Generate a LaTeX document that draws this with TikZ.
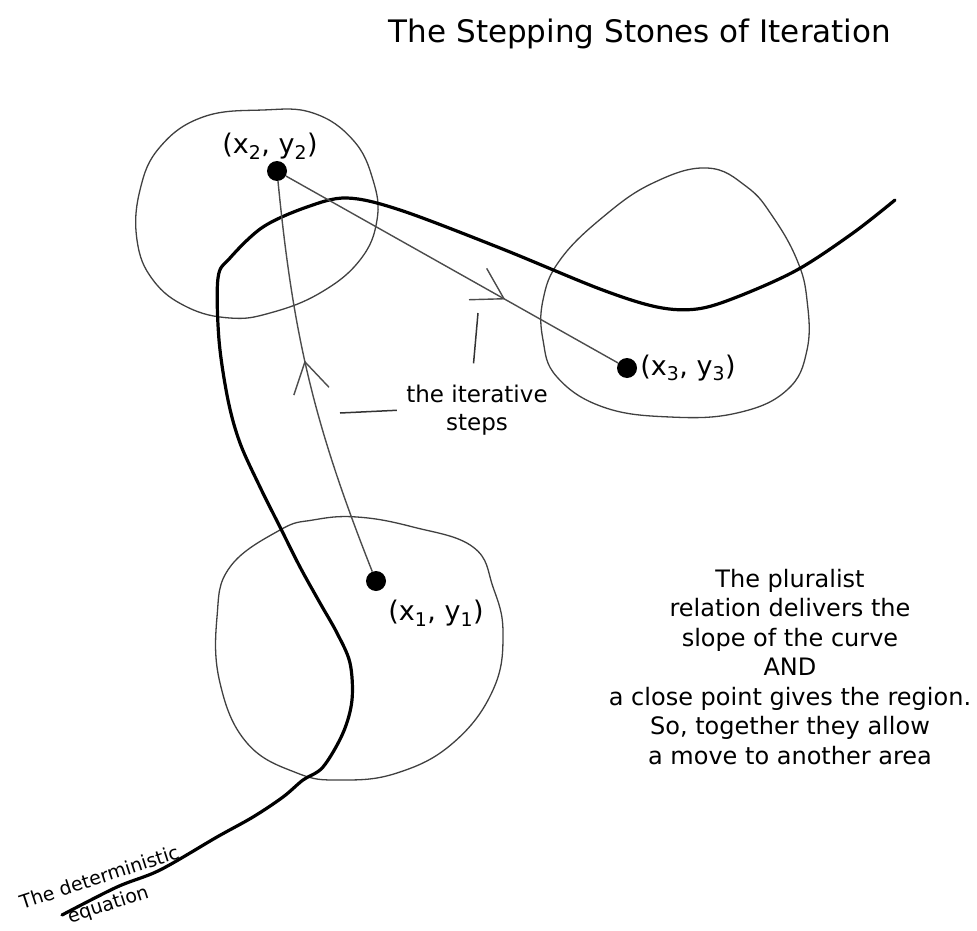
\documentclass[tikz,border=0pt]{standalone}
\usepackage{fontspec}
\setmainfont{DejaVu Sans}
\usetikzlibrary{arrows.meta,positioning,decorations.markings}

\begin{document}
\begin{tikzpicture}[
  x=1pt,y=-1pt,
  region/.style={draw=black!75,line width=1.3pt},
  eqcurve/.style={draw=black,line width=3.2pt,line cap=round,line join=round},
  stone/.style={circle,fill=black,inner sep=0pt,minimum size=20pt},
  coordlabel/.style={inner sep=0pt,font=\fontsize{27}{30}\selectfont},
  stepline/.style={draw=black!70,line width=1.4pt},
  midarrow/.style={postaction=decorate,decoration={markings,mark=at position #1 with {\arrow{Straight Barb[length=30pt,width=36pt]}}}},
  pointer/.style={draw=black!80,line width=1.5pt},
  note/.style={align=center,font=\fontsize{24}{29.5}\selectfont}
]
\useasboundingbox (0,0) rectangle (977,931);

\node[font=\fontsize{31}{37}\selectfont,anchor=base] (title) at (640,43) {The Stepping Stones of Iteration};

\draw[region] plot[smooth cycle,tension=0.7] coordinates {(263,110) (203,117) (160,147) (140,190) (137,240) (153,280) (187,307) (230,318) (270,313) (320,293) (360,260) (377,220) (373,180) (353,140) (313,113)};
\draw[region] plot[smooth cycle,tension=0.7] coordinates {(707,168) (653,183) (603,217) (560,260) (543,300) (543,340) (557,377) (603,407) (670,417) (737,413) (787,390) (807,350) (807,300) (797,260) (773,217) (747,187)};
\draw[region] plot[smooth cycle,tension=0.7] coordinates {(357,517) (313,520) (280,530) (230,567) (217,617) (220,683) (247,743) (297,773) (340,780) (397,773) (453,743) (493,690) (503,633) (493,587) (473,547) (413,527)};

\draw[eqcurve] plot[smooth,tension=0.55] coordinates {(62,915) (117,887) (160,870) (217,837) (253,817) (283,797) (303,780) (323,767) (343,733) (352,700) (350,663) (337,633) (320,603) (300,567) (280,527) (260,487) (240,443) (228,400) (219,340) (218,278) (230,258) (263,227) (307,207) (347,198) (400,210) (500,248) (600,289) (657,307) (697,309) (737,297) (797,270) (853,233) (895,200)};

\node[stone] (x1) at (376,581) {};
\node[stone] (x2) at (277,171) {};
\node[stone] (x3) at (627,368) {};

\node[coordlabel,below right=12pt and 5pt of x1] (lab1) {(x\textsubscript{1}, y\textsubscript{1})};
\node[coordlabel,above=1pt of x2,xshift=-7pt] (lab2) {(x\textsubscript{2}, y\textsubscript{2})};
\node[coordlabel,right=3pt of x3] (lab3) {(x\textsubscript{3}, y\textsubscript{3})};

\draw[stepline,midarrow=0.55] (x1) to[bend left=8] (x2);
\draw[stepline,midarrow=0.66] (x2) -- (x3);

\node[note,font=\fontsize{23}{28}\selectfont] (steps) at (477,410) {the iterative\\steps};
\coordinate (p1) at (340,413);
\coordinate (p2) at (478,313);
\draw[pointer,shorten <=6pt] (steps.west) -- (p1);
\draw[pointer,shorten <=18pt] (steps.100) -- (p2);

\node[note] (story) at (790,667) {The pluralist\\relation delivers the\\slope of the curve\\AND\\a close point gives the region.\\So, together they allow\\a move to another area};

\node[align=center,rotate=18,font=\fontsize{19}{28}\selectfont] (eq) at (104,892) {The deterministic\\equation};
\end{tikzpicture}
\end{document}
